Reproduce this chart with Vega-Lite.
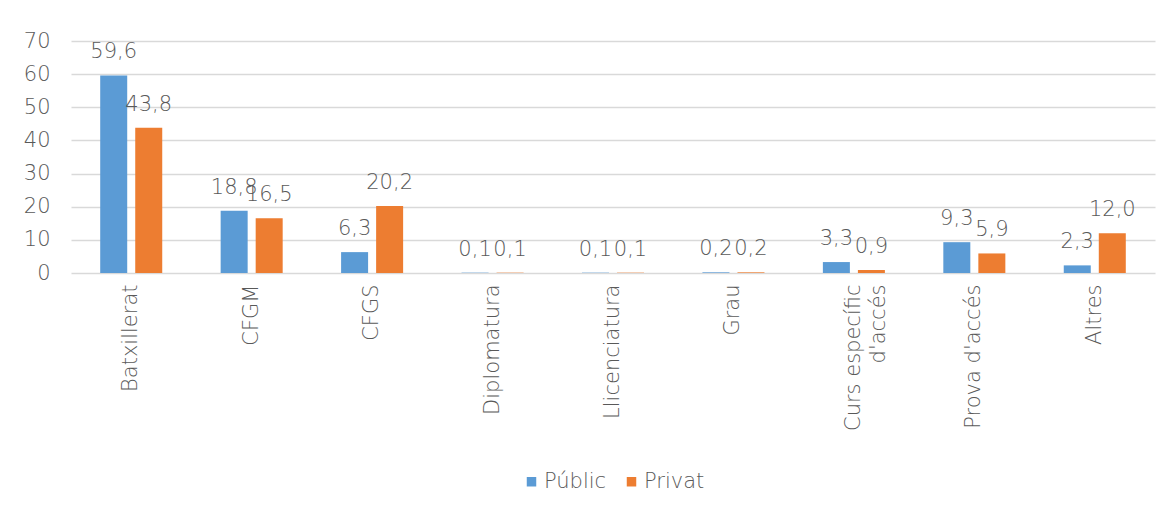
{
  "$schema": "https://vega.github.io/schema/vega-lite/v6.json",
  "autosize": {"type": "none"},
  "width": 1084,
  "height": 232,
  "padding": {"left": 71, "top": 41, "right": 21, "bottom": 240},
  "background": "white",
  "data": {
    "values": [
      {"category": "Batxillerat", "series": "Públic", "value": 59.6},
      {"category": "Batxillerat", "series": "Privat", "value": 43.8},
      {"category": "CFGM", "series": "Públic", "value": 18.8},
      {"category": "CFGM", "series": "Privat", "value": 16.5},
      {"category": "CFGS", "series": "Públic", "value": 6.3},
      {"category": "CFGS", "series": "Privat", "value": 20.2},
      {"category": "Diplomatura", "series": "Públic", "value": 0.1},
      {"category": "Diplomatura", "series": "Privat", "value": 0.1},
      {"category": "Llicenciatura", "series": "Públic", "value": 0.1},
      {"category": "Llicenciatura", "series": "Privat", "value": 0.1},
      {"category": "Grau", "series": "Públic", "value": 0.2},
      {"category": "Grau", "series": "Privat", "value": 0.2},
      {"category": "Curs específic|d'accés", "series": "Públic", "value": 3.3},
      {"category": "Curs específic|d'accés", "series": "Privat", "value": 0.9},
      {"category": "Prova d'accés", "series": "Públic", "value": 9.3},
      {"category": "Prova d'accés", "series": "Privat", "value": 5.9},
      {"category": "Altres", "series": "Públic", "value": 2.3},
      {"category": "Altres", "series": "Privat", "value": 12.0}
    ]
  },
  "encoding": {
    "x": {
      "field": "category",
      "type": "nominal",
      "sort": null,
      "scale": {"paddingInner": 0.485, "paddingOuter": 0.2425},
      "axis": {
        "title": null,
        "labelAngle": -90,
        "ticks": false,
        "tickSize": 0,
        "domain": false,
        "labelPadding": 11,
        "labelLineHeight": 25,
        "labelExpr": "indexof(datum.label, '|') > 0 ? [split(datum.label, '|')[0], split(datum.label, '|')[1] + '\u00a0\u00a0\u00a0\u00a0\u00a0'] : datum.label"
      }
    },
    "xOffset": {
      "field": "series",
      "type": "nominal",
      "sort": ["Públic", "Privat"],
      "scale": {"paddingInner": 0.229, "paddingOuter": 0}
    },
    "y": {
      "field": "value",
      "type": "quantitative",
      "scale": {"domain": [0, 70], "nice": false},
      "axis": {
        "title": null,
        "values": [0, 10, 20, 30, 40, 50, 60, 70],
        "ticks": false,
        "tickSize": 0,
        "domain": false,
        "labelPadding": 21,
        "grid": true,
        "format": "d"
      }
    }
  },
  "layer": [
    {
      "mark": {"type": "bar"},
      "encoding": {
        "color": {
          "field": "series",
          "type": "nominal",
          "sort": ["Públic", "Privat"],
          "scale": {"domain": ["Públic", "Privat"], "range": ["#5B9BD5", "#ED7D31"]},
          "legend": {
            "title": null,
            "orient": "bottom",
            "direction": "horizontal",
            "symbolType": "square",
            "symbolSize": 90,
            "symbolStrokeWidth": 0,
            "labelOffset": 2,
            "columnPadding": 14,
            "offset": 40
          }
        }
      }
    },
    {
      "mark": {
        "type": "text",
        "baseline": "alphabetic",
        "align": "center",
        "dy": -17,
        "font": "DejaVu Sans",
        "fontSize": 21,
        "fontWeight": 300,
        "color": "#595959"
      },
      "encoding": {
        "text": {"field": "value", "type": "quantitative", "format": ".1f"}
      }
    }
  ],
  "config": {
    "locale": {
      "number": {"decimal": ",", "thousands": ".", "grouping": [3], "currency": ["", " €"]}
    },
    "view": {"stroke": null},
    "axis": {
      "labelFont": "DejaVu Sans",
      "labelFontSize": 21,
      "labelFontWeight": 300,
      "labelColor": "#595959",
      "gridColor": "#d9d9d9",
      "gridWidth": 1.5
    },
    "legend": {
      "labelFont": "DejaVu Sans",
      "labelFontSize": 21,
      "labelFontWeight": 300,
      "labelColor": "#595959",
      "layout": {"bottom": {"anchor": "middle"}}
    }
  }
}
